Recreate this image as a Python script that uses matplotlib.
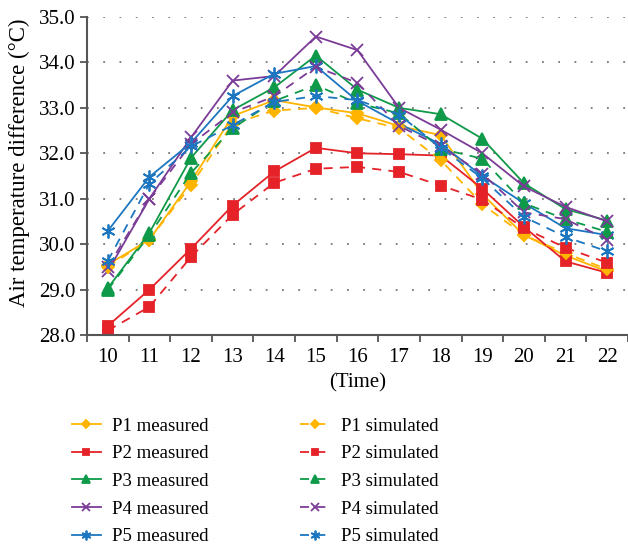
import matplotlib.pyplot as plt

# Data
hours = [10, 11, 12, 13, 14, 15, 16, 17, 18, 19, 20, 21, 22]

p1_measured = [29.55, 30.10, 31.38, 32.82, 33.17, 33.01, 32.88, 32.60, 32.40, 31.10, 30.20, 29.75, 29.40]
p2_measured = [28.20, 29.00, 29.90, 30.85, 31.60, 32.12, 32.00, 31.98, 31.95, 31.22, 30.38, 29.62, 29.37]
p3_measured = [29.03, 30.25, 31.90, 32.95, 33.45, 34.15, 33.40, 33.00, 32.86, 32.32, 31.34, 30.77, 30.52]
p4_measured = [29.40, 31.00, 32.35, 33.60, 33.70, 34.57, 34.27, 33.00, 32.52, 32.00, 31.27, 30.82, 30.50]
p5_measured = [30.29, 31.48, 32.23, 33.26, 33.75, 33.92, 33.15, 32.65, 32.20, 31.50, 30.90, 30.35, 30.20]

p1_simulated = [29.50, 30.10, 31.30, 32.65, 32.94, 33.00, 32.77, 32.55, 31.85, 30.88, 30.20, 29.80, 29.45]
p2_simulated = [28.10, 28.62, 29.72, 30.65, 31.35, 31.66, 31.70, 31.59, 31.29, 30.98, 30.35, 29.92, 29.59]
p3_simulated = [29.00, 30.20, 31.57, 32.55, 33.15, 33.50, 33.10, 32.88, 32.10, 31.88, 30.90, 30.55, 30.27]
p4_simulated = [29.50, 31.00, 32.20, 32.90, 33.25, 33.90, 33.55, 32.60, 32.15, 31.55, 30.70, 30.55, 30.10]
p5_simulated = [29.63, 31.33, 32.15, 32.62, 33.13, 33.26, 33.17, 32.85, 32.12, 31.45, 30.60, 30.16, 29.84]

names = ['P1', 'P2', 'P3', 'P4', 'P5']
colors = ['#FFB400', '#E42228', '#0E9A48', '#7B3C97', '#1C76C0']
markers = ['D', 's', '^', 'x', (6, 2, 0)]
msizes = [6.5, 7, 8, 8, 10]
measured = [p1_measured, p2_measured, p3_measured, p4_measured, p5_measured]
simulated = [p1_simulated, p2_simulated, p3_simulated, p4_simulated, p5_simulated]

plt.rcParams['font.family'] = ['Liberation Serif', 'DejaVu Serif']

fig = plt.figure(figsize=(6.28, 5.46), dpi=100)
ax = fig.add_axes([0.1385, 0.3864, 0.8615, 0.5825])

for i in range(5):
    ax.plot(hours, measured[i], color=colors[i], marker=markers[i], markersize=msizes[i],
            linewidth=1.3, markeredgewidth=1.3, label=names[i] + ' measured')
for i in range(5):
    ax.plot(hours, simulated[i], color=colors[i], marker=markers[i], markersize=msizes[i],
            linewidth=1.3, markeredgewidth=1.3, linestyle=(0, (5, 4)),
            label=names[i] + ' simulated')

ax.set_xlim(9.5, 22.5)
ax.set_ylim(28, 35)
ax.set_xticks(hours)
ax.set_xticks([h - 0.5 for h in hours] + [22.5], minor=True)
ax.tick_params(axis='x', which='major', length=0, labelsize=15, pad=9)
ax.tick_params(axis='x', which='minor', length=5, width=1.3, color='#555555')
ax.set_yticks([28, 29, 30, 31, 32, 33, 34, 35])
ax.set_yticklabels(['%.1f' % v for v in [28, 29, 30, 31, 32, 33, 34, 35]])
ax.tick_params(axis='y', length=5, width=1.3, color='#555555', labelsize=15)

ax.yaxis.grid(True, linestyle=(0, (1, 8)), color='#777777', linewidth=1.3)
ax.set_axisbelow(True)
for s in ['top', 'right']:
    ax.spines[s].set_visible(False)
for s in ['left', 'bottom']:
    ax.spines[s].set_color('#555555')
    ax.spines[s].set_linewidth(1.5)

ax.set_xlabel('(Time)', fontsize=15, labelpad=5)
ax.set_ylabel('Air temperature difference (°C)', fontsize=16.5)
ax.yaxis.set_label_coords(-0.105, 0.542)

handles, labels = ax.get_legend_handles_labels()
leg = fig.legend(handles, labels, ncol=2, loc='upper left', bbox_to_anchor=(0.087, 0.266),
                 frameon=False, fontsize=13.5, handlelength=1.55, handletextpad=0.6,
                 columnspacing=4.9, labelspacing=0.56, markerscale=0.7)

fig.savefig('out.png', dpi=100)
